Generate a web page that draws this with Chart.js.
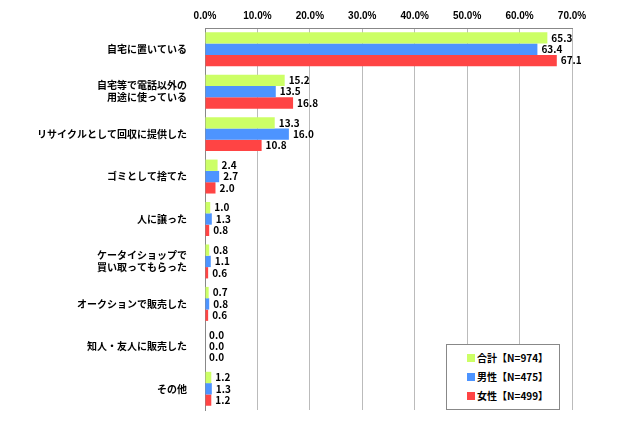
<!DOCTYPE html>
<html><head><meta charset="utf-8">
<script src="https://cdn.jsdelivr.net/npm/chart.js@4"></script>
<style>
body{margin:0;background:#fff;font-family:"Noto Sans CJK JP",sans-serif;}
#wrap{position:relative;width:640px;height:426px;}
#legend{position:absolute;left:446px;top:344px;width:112px;height:64px;border:1px solid #888;background:#fff;font-size:10px;font-weight:bold;}
#legend div{margin:6px 0 0 20px;height:13px;line-height:13px;}
#legend span{display:inline-block;width:8px;height:8px;margin-right:2px;}
</style></head><body>
<div id="wrap"><canvas id="c" width="640" height="426"></canvas>
<div id="legend">
<div><span style="background:#ccff66"></span>合計【N=974】</div>
<div><span style="background:#4d94ff"></span>男性【N=475】</div>
<div><span style="background:#ff4444"></span>女性【N=499】</div>
</div></div>
<script>
// categories and values
const categories = [
  '自宅に置いている', ['自宅等で電話以外の','用途に使っている'], 'リサイクルとして回収に提供した',
  'ゴミとして捨てた', '人に譲った', ['ケータイショップで','買い取ってもらった'],
  'オークションで販売した', '知人・友人に販売した', 'その他'
];
const total  = [65.3, 15.2, 13.3, 2.4, 1.0, 0.8, 0.7, 0.0, 1.2];
const male   = [63.4, 13.5, 16.0, 2.7, 1.3, 1.1, 0.8, 0.0, 1.3];
const female = [67.1, 16.8, 10.8, 2.0, 0.8, 0.6, 0.6, 0.0, 1.2];

const valueLabels = {
  id: 'valueLabels',
  afterDatasetsDraw(chart) {
    const ctx = chart.ctx;
    ctx.save();
    ctx.font = 'bold 10px "Noto Sans CJK JP", sans-serif';
    ctx.fillStyle = '#000';
    ctx.textBaseline = 'middle';
    chart.data.datasets.forEach((ds, i) => {
      chart.getDatasetMeta(i).data.forEach((bar, j) => {
        ctx.fillText(ds.data[j].toFixed(1), bar.x + 4, bar.y);
      });
    });
    ctx.restore();
  }
};

new Chart(document.getElementById('c'), {
  type: 'bar',
  data: {
    labels: categories,
    datasets: [
      { label: '合計【N=974】', data: total,  backgroundColor: '#ccff66' },
      { label: '男性【N=475】', data: male,   backgroundColor: '#4d94ff' },
      { label: '女性【N=499】', data: female, backgroundColor: '#ff4444' },
    ]
  },
  options: {
    indexAxis: 'y',
    responsive: false,
    animation: false,
    layout: { padding: { top: 4, right: 68, bottom: 14, left: 10 } },
    datasets: { bar: { categoryPercentage: 0.8, barPercentage: 1.0 } },
    plugins: { legend: { display: false }, tooltip: { enabled: false } },
    scales: {
      x: {
        position: 'top', min: 0, max: 70,
        grid: { color: '#bbb', drawTicks: false },
        border: { color: '#888' },
        ticks: { stepSize: 10, padding: 6, color: '#000', font: { size: 10, weight: 'bold' },
          callback: v => v.toFixed(1) + '%' },
      },
      y: {
        grid: { display: false },
        border: { color: '#888' },
        ticks: { color: '#000', padding: 10, font: { size: 10, weight: 'bold', family: '"Noto Sans CJK JP"' } },
        afterFit: s => { s.width = 195; },
      }
    }
  },
  plugins: [valueLabels]
});
</script></body></html>
